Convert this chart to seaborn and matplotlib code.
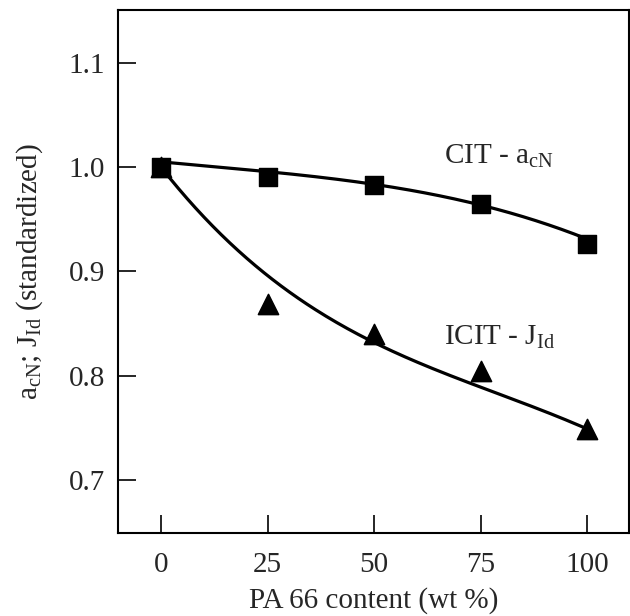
import numpy as np
import pandas as pd
import matplotlib
matplotlib.use('Agg')
import matplotlib.pyplot as plt
import seaborn as sns

pa66 = [0, 25, 50, 75, 100]
cit_acn = [1.000, 0.991, 0.983, 0.965, 0.926]
icit_jid = [1.000, 0.869, 0.840, 0.804, 0.749]

# drawn trend lines at the same x positions
cit_trend = [1.005, 0.996, 0.983, 0.964, 0.931]
icit_trend = [1.000, 0.895, 0.833, 0.788, 0.749]

df = pd.DataFrame({'pa66': pa66, 'cit': cit_acn, 'icit': icit_jid,
                   'cit_trend': cit_trend, 'icit_trend': icit_trend})

sns.set_theme(style='ticks')
plt.rcParams['font.family'] = ['Liberation Serif', 'DejaVu Serif']
plt.rcParams['mathtext.fontset'] = 'custom'
plt.rcParams['mathtext.rm'] = 'Liberation Serif'
plt.rcParams['mathtext.it'] = 'Liberation Serif:italic'

fig = plt.figure(figsize=(6.3, 6.16), dpi=100)
ax = fig.add_axes([0.187, 0.135, 0.811, 0.849])

# smooth the trend lines with a cubic least-squares fit
xs = np.linspace(0, 100, 200)
for col in ['cit_trend', 'icit_trend']:
    p = np.polyfit(df['pa66'], df[col], 3)
    sns.lineplot(x=xs, y=np.polyval(p, xs), color='black', lw=2.3, ax=ax)

sns.scatterplot(data=df, x='pa66', y='cit', marker='s', s=160, color='black',
                edgecolor='black', zorder=5, ax=ax)
sns.scatterplot(data=df, x='pa66', y='icit', marker='^', s=210, color='black',
                edgecolor='black', zorder=5, ax=ax)

ax.set_xlim(-10.2, 109.8)
ax.set_ylim(0.649, 1.151)
ax.set_xticks([0, 25, 50, 75, 100])
ax.set_yticks([0.7, 0.8, 0.9, 1.0, 1.1])
ax.set_yticklabels(['0.7', '0.8', '0.9', '1.0', '1.1'])
ax.tick_params(direction='in', length=13, width=1.4, labelsize=21, pad=9)
ax.tick_params(axis='x', pad=14)
for sp in ax.spines.values():
    sp.set_linewidth(1.5)
    sp.set_color('black')

ax.set_xlabel('PA 66 content (wt %)', fontsize=21, labelpad=6)
ax.set_ylabel(r'a$_{\mathrm{cN}}$; J$_{\mathrm{Id}}$ (standardized)', fontsize=21, labelpad=17)

ax.text(66.3, 1.010, r'CIT - a$_{\mathrm{cN}}$', fontsize=21, ha='left', va='center')
ax.text(66.3, 0.837, r'ICIT - J$_{\mathrm{Id}}$', fontsize=21, ha='left', va='center')

fig.savefig('out.png', dpi=100)
